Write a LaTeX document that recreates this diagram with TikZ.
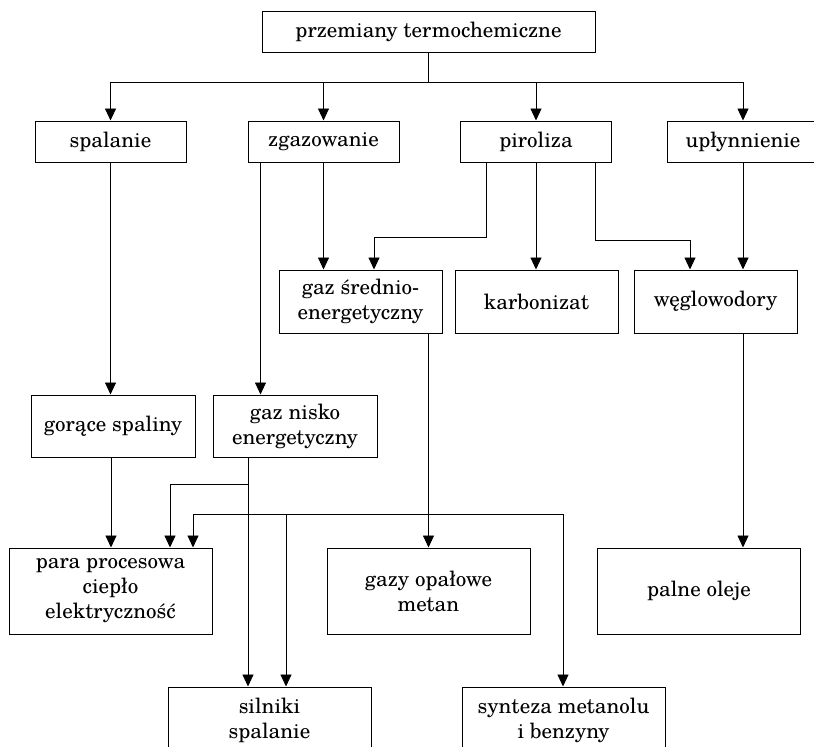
\documentclass[tikz,border=0pt]{standalone}
\usepackage{fontspec}
\setmainfont{TeX Gyre Schola}
\usetikzlibrary{arrows.meta}
\begin{document}
\begin{tikzpicture}[x=1pt, y=-1pt, line width=0.9pt,
    box/.style={draw, line width=1pt, inner sep=0pt, align=center,
      font=\fontsize{21}{25}\selectfont},
    r2/.style={box, minimum width=151pt, minimum height=41pt},
    r3/.style={box, minimum width=163pt, minimum height=63pt},
    r4/.style={box, minimum width=164pt, minimum height=62pt},
    r5/.style={box, minimum width=203pt, minimum height=86pt},
    r6/.style={box, minimum width=203pt, minimum height=66pt},
    arr/.style={-{Triangle[length=12pt,width=11pt]}}]
    \useasboundingbox (0,0) rectangle (814,747);
    \clip (0,0) rectangle (814,747);

    \node[box, minimum width=333pt, minimum height=41pt] (przem) at (428.5,31.5) {przemiany termochemiczne};

    \node[r2] (spal) at (110.5,141.5) {spalanie};
    \node[r2] (zgaz) at (323.5,141.5) {zgazowanie};
    \node[r2] (piro) at (536,141.5) {piroliza};
    \node[r2] (uply) at (743,141.5) {upłynnienie};

    \node[r3] (gsr) at (360.5,301.5) {gaz średnio-\\energetyczny};
    \node[r3] (karb) at (536.5,301.5) {karbonizat};
    \node[r3] (wegl) at (715.5,301.5) {węglowodory};

    \node[r4] (gor) at (113,426) {gorące spaliny};
    \node[r4] (gnis) at (295,426) {gaz nisko\\energetyczny};

    \node[r5] (para) at (110.5,591) {para procesowa\\ciepło\\elektryczność};
    \node[r5] (gazy) at (428.5,591) {gazy opałowe\\metan};
    \node[r5] (paln) at (699,591) {palne oleje};

    \node[r6] (siln) at (269.5,720) {silniki\\spalanie};
    \node[r6] (synt) at (563.5,720) {synteza metanolu\\i benzyny};

    \coordinate (hub) at (428.5,82);
    \coordinate (gnsplit) at (248,484);
    \coordinate (busL) at (193,514);
    \coordinate (busM) at (286,514);
    \coordinate (busR) at (563,514);

    \draw (przem.south) -- (hub);
    \foreach \n in {spal,zgaz,piro,uply}
        \draw[arr] (hub) -| (\n.north);

    \draw[arr] (spal.south) -- (spal.south |- gor.north);
    \draw[arr] (zgaz.south) -- (zgaz.south |- gsr.north);
    \draw[arr] ([xshift=-63pt]zgaz.south) -- ([xshift=-63pt]zgaz.south |- gnis.north);
    \draw[arr] ([xshift=-50pt]piro.south) -- ++(0,75) -| ([xshift=13.5pt]gsr.north);
    \draw[arr] (piro.south) -- (piro.south |- karb.north);
    \draw[arr] ([xshift=59pt]piro.south) -- ++(0,78) -| ([xshift=-25.5pt]wegl.north);
    \draw[arr] (uply.south) -- (uply.south |- wegl.north);

    \draw[arr] (gsr.south -| gazy.north) -- (gazy.north);
    \draw[arr] ([xshift=27.5pt]wegl.south) -- ([xshift=27.5pt]wegl.south |- paln.north);
    \draw[arr] ([xshift=-2pt]gor.south) -- ([xshift=-2pt]gor.south |- para.north);

    \draw[arr] ([xshift=-47pt]gnis.south) -- ([xshift=-47pt]gnis.south |- siln.north);
    \draw[arr] (gnsplit) -| ([xshift=59.5pt]para.north);
    \draw[arr] (busR) -| (para.north -| busL);
    \draw[arr] (busM) -- (busM |- siln.north);
    \draw[arr] (busR) -- (busR |- synt.north);
\end{tikzpicture}
\end{document}
